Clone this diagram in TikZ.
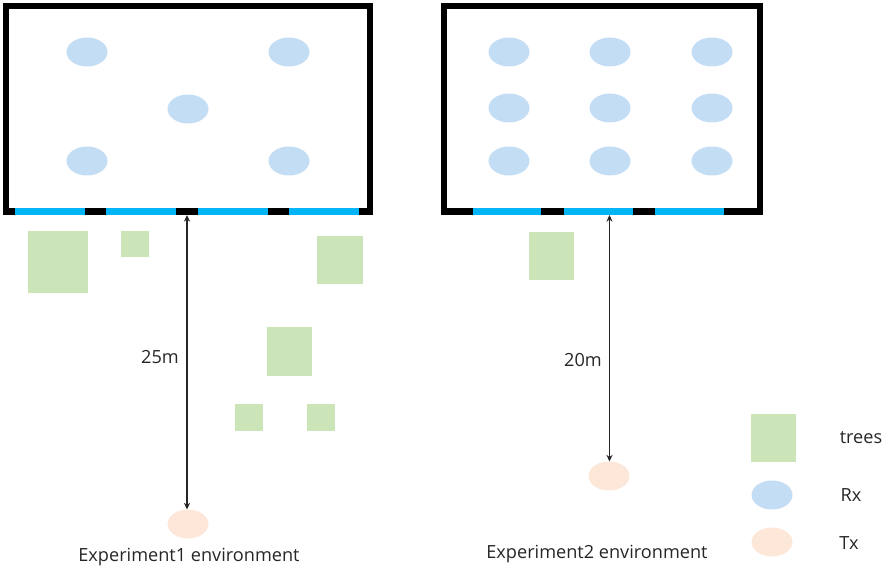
\documentclass[tikz,border=0pt]{standalone}
\usepackage{fontspec}
\setmainfont{Open Sans}
\usetikzlibrary{shapes.geometric,arrows.meta}
\definecolor{treeg}{HTML}{CBE5B9}
\definecolor{rxb}{HTML}{C3DDF5}
\definecolor{txp}{HTML}{FCE7D9}
\definecolor{winb}{HTML}{00B4F5}
\tikzset{
  piece/.style={rectangle,inner sep=0pt,outer sep=0pt,draw=none},
  tree/.style={piece,fill=treeg},
  win/.style={piece,fill=winb},
  pier/.style={piece,fill=black},
  frame/.style={piece,draw=black,line width=4.6pt},
  rx/.style={ellipse,inner sep=0pt,outer sep=0pt,fill=rxb,minimum width=30.75pt,minimum height=21.75pt},
  tx/.style={ellipse,inner sep=0pt,outer sep=0pt,fill=txp,minimum width=30.75pt,minimum height=21.75pt},
  dist/.style={draw=black!85,line width=0.8pt,{Stealth[length=5pt,width=4.6pt]}-{Stealth[length=5pt,width=4.6pt]}},
  lab/.style={inner sep=0pt,font=\fontsize{13.6}{16}\selectfont,text=black!85}
}
\newcommand{\bx}[6]{\node[#1,minimum width={(#5-#3)*0.75pt},minimum height={(#6-#4)*0.75pt}] (#2) at ({(#3+#5)/2},{(#4+#6)/2}) {};}
\begin{document}
\begin{tikzpicture}[x=0.75pt,y=-0.75pt]
\useasboundingbox (0,0) rectangle (886,574);
% rooms
\bx{frame}{roomA}{6}{6}{370}{211.5}
\bx{frame}{roomB}{444}{6}{760}{211.5}
% room 1 bottom wall
\bx{pier}{pa0}{3}{208}{15}{215}
\bx{win}{wa1}{15}{208}{85}{215}
\bx{pier}{pa1}{85}{208}{106}{215}
\bx{win}{wa2}{106}{208}{176}{215}
\bx{pier}{pa2}{176}{208}{198}{215}
\bx{win}{wa3}{198}{208}{268}{215}
\bx{pier}{pa3}{268}{208}{289}{215}
\bx{win}{wa4}{289}{208}{359}{215}
\bx{pier}{pa4}{359}{208}{373}{215}
% room 2 bottom wall
\bx{pier}{pb0}{441}{208}{473}{215}
\bx{win}{wb1}{473}{208}{541}{215}
\bx{pier}{pb1}{541}{208}{564}{215}
\bx{win}{wb2}{564}{208}{633}{215}
\bx{pier}{pb2}{633}{208}{655}{215}
\bx{win}{wb3}{655}{208}{724}{215}
\bx{pier}{pb3}{724}{208}{763}{215}
% trees
\bx{tree}{t1}{28}{231}{88}{293}
\bx{tree}{t2}{120.5}{231}{148.5}{257.5}
\bx{tree}{t3}{317}{236}{363}{284}
\bx{tree}{t4}{267}{327}{312}{376}
\bx{tree}{t5}{235}{404}{263}{431}
\bx{tree}{t6}{307}{404}{335}{431}
\bx{tree}{t7}{529}{232}{574}{280}
\bx{tree}{t8}{751}{414}{796}{462}
% receivers room 1
\node[rx] (a1) at (87,52) {};
\node[rx] (a2) at (289,52) {};
\node[rx] (a3) at (188,109) {};
\node[rx] (a4) at (87,161) {};
\node[rx] (a5) at (289,161) {};
% receivers room 2
\node[rx] (b1) at (509,52) {};
\node[rx] (b2) at (610,52) {};
\node[rx] (b3) at (712,52) {};
\node[rx] (b4) at (509,108) {};
\node[rx] (b5) at (610,108) {};
\node[rx] (b6) at (712,108) {};
\node[rx] (b7) at (509,161) {};
\node[rx] (b8) at (610,161) {};
\node[rx] (b9) at (712,161) {};
% transmitters
\node[tx] (txa) at (188,524) {};
\node[tx] (txb) at (609,476) {};
% legend
\node[rx] (lrx) at (772,495) {};
\node[tx] (ltx) at (772,542) {};
% distances
\draw[dist] (pa2.south) -- (pa2.south |- txa.north);
\draw[dist] (609.5,215) coordinate (wbp) -- (wbp |- txb.north);
% labels
\node[lab] (d1) at (160,357) {25m};
\node[lab] (d2) at (583,360) {20m};
\node[lab] (c1) at (189,557) {Experiment1 environment};
\node[lab] (c2) at (597,554) {Experiment2 environment};
\node[lab] (l1) at (861,438) {trees};
\node[lab] (l2) at (851,495) {Rx};
\node[lab] (l3) at (849,543) {Tx};
\end{tikzpicture}
\end{document}
